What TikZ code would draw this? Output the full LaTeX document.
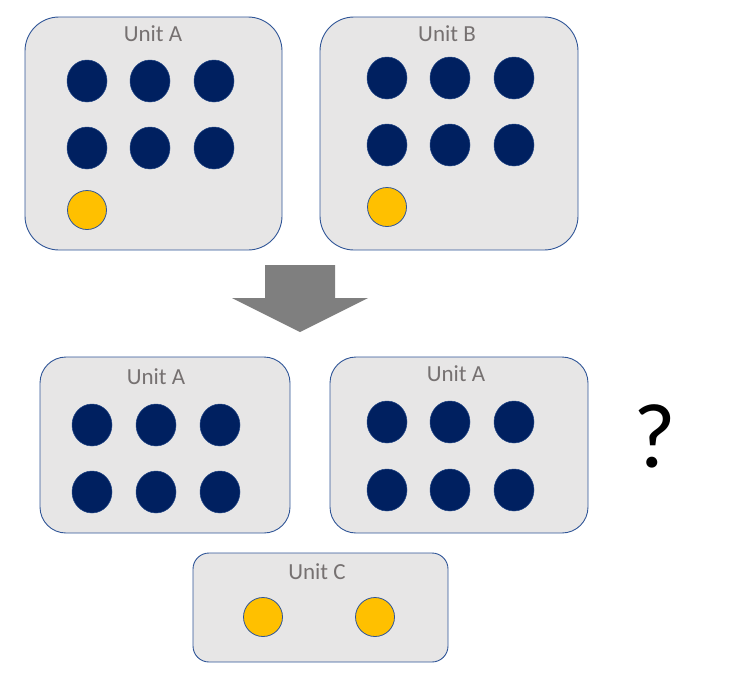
\documentclass[tikz,border=0pt]{standalone}
\usepackage{fontspec}
\usetikzlibrary{shapes.geometric}
\setmainfont{Carlito}
\definecolor{boxfill}{RGB}{231,230,230}
\definecolor{boxline}{RGB}{47,85,151}
\definecolor{navy}{RGB}{0,32,96}
\definecolor{gold}{RGB}{255,192,0}
\definecolor{labelgray}{RGB}{118,113,113}
\definecolor{arrowgray}{RGB}{127,127,127}
\begin{document}
\begin{tikzpicture}[x=1pt,y=-1pt,
  unitbox/.style={draw=boxline,fill=boxfill,line width=0.9pt},
  navydot/.style={draw=boxline!70!navy,fill=navy,line width=0.5pt,ellipse,minimum width=40pt,minimum height=42pt,inner sep=0pt},
  golddot/.style={draw=boxline,fill=gold,line width=0.8pt,circle,minimum size=39pt,inner sep=0pt},
  unitlabel/.style={text=labelgray,font=\fontsize{23}{25}\selectfont,inner sep=0pt}]
\useasboundingbox (0,0) rectangle (735,683);
% top boxes
\draw[unitbox,rounded corners=34pt] (25,17) rectangle (282,250);
\node[unitlabel] (la) at (153,34) {Unit A};
\draw[unitbox,rounded corners=34pt] (320,17) rectangle (578,250);
\node[unitlabel] (lb) at (447,34) {Unit B};
% dots top A
\foreach \x/\n in {87/1,150/2,214/3}{
  \node[navydot] (a1\n) at (\x,81) {};
  \node[navydot] (a2\n) at (\x,148) {};
}
\node[golddot] (ay) at (87,210) {};
% dots top B
\foreach \x/\n in {387/1,450/2,514/3}{
  \node[navydot] (b1\n) at (\x,78) {};
  \node[navydot] (b2\n) at (\x,145) {};
}
\node[golddot] (by) at (387,207) {};
% arrow
\fill[arrowgray] (265,265) -- (335,265) -- (335,298) -- (368,298) -- (300,332) -- (232,298) -- (265,298) -- cycle;
% bottom boxes
\draw[unitbox,rounded corners=26pt] (40,357) rectangle (290,533);
\node[unitlabel] (lc) at (156,377) {Unit A};
\draw[unitbox,rounded corners=26pt] (330,357) rectangle (588,533);
\node[unitlabel] (ld) at (456,374) {Unit A};
\foreach \x/\n in {92/1,156/2,220/3}{
  \node[navydot] (c1\n) at (\x,425) {};
  \node[navydot] (c2\n) at (\x,492) {};
}
\foreach \x/\n in {387/1,450/2,514/3}{
  \node[navydot] (d1\n) at (\x,422) {};
  \node[navydot] (d2\n) at (\x,490) {};
}
\draw[unitbox,rounded corners=16pt] (193,553) rectangle (448,662);
\node[unitlabel] (le) at (317,572) {Unit C};
\node[golddot] (e1) at (263,617) {};
\node[golddot] (e2) at (375,617) {};
% question mark
\node[font=\fontsize{92}{96}\selectfont,inner sep=0pt] (q) at (655,436) {?};
\end{tikzpicture}
\end{document}
